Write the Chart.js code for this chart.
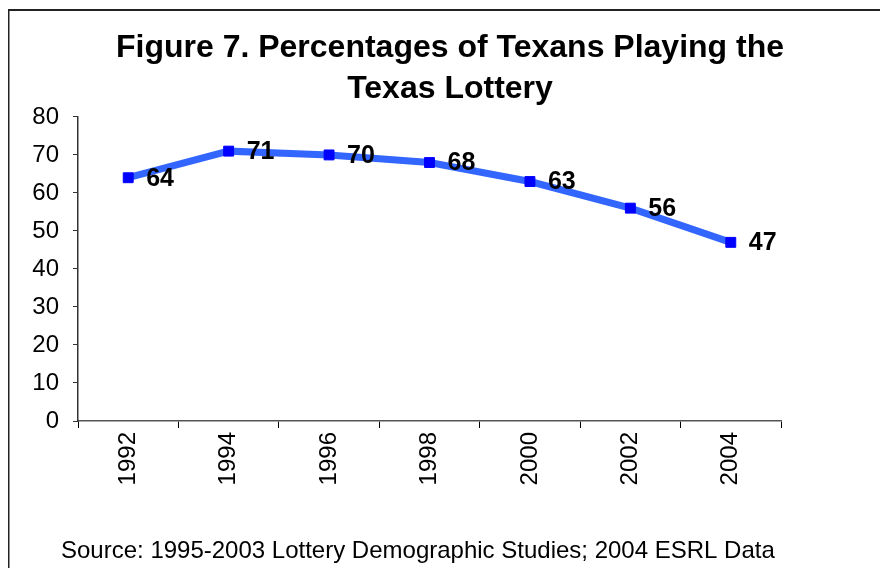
<!DOCTYPE html>
<html>
<head>
<meta charset="utf-8">
<script src="https://cdn.jsdelivr.net/npm/chart.js@4/dist/chart.umd.min.js"></script>
<style>
  html, body { margin: 0; padding: 0; background: #fff; }
  #wrap { position: relative; width: 880px; height: 568px; }
</style>
</head>
<body>
<div id="wrap"><canvas id="c" width="880" height="568"></canvas></div>
<script>
const years = ['1992', '1994', '1996', '1998', '2000', '2002', '2004'];
const percentPlaying = [64, 71, 70, 68, 63, 56, 47];
const yTicks = [0, 10, 20, 30, 40, 50, 60, 70, 80];
const titleLines = ['Figure 7. Percentages of Texans Playing the', 'Texas Lottery'];
const sourceNote = 'Source: 1995-2003 Lottery Demographic Studies; 2004 ESRL Data';

const FONT = '"Liberation Sans", Arial, sans-serif';

const framePlugin = {
  id: 'frame',
  beforeDraw(chart) {
    const ctx = chart.ctx;
    ctx.save();
    ctx.fillStyle = '#fff';
    ctx.fillRect(0, 0, chart.width, chart.height);
    ctx.fillStyle = '#222';
    ctx.fillRect(8, 9, chart.width, 2);
    ctx.fillRect(8, 9, 1.5, chart.height);
    ctx.restore();
  }
};

const labelPlugin = {
  id: 'valueLabels',
  afterDatasetsDraw(chart) {
    const ctx = chart.ctx;
    const meta = chart.getDatasetMeta(0);
    ctx.save();
    ctx.font = 'bold 25px ' + FONT;
    ctx.fillStyle = '#000';
    ctx.textAlign = 'left';
    ctx.textBaseline = 'middle';
    meta.data.forEach((pt, i) => {
      ctx.fillText(String(percentPlaying[i]), pt.x + 18, pt.y + 1);
    });
    ctx.restore();
  }
};

const sourcePlugin = {
  id: 'sourceNote',
  afterDraw(chart) {
    const ctx = chart.ctx;
    ctx.save();
    ctx.font = '24px ' + FONT;
    ctx.fillStyle = '#000';
    ctx.textAlign = 'left';
    ctx.textBaseline = 'alphabetic';
    ctx.fillText(sourceNote, 61, 558);
    ctx.restore();
  }
};

new Chart(document.getElementById('c'), {
  type: 'line',
  data: {
    labels: years,
    datasets: [{
      data: percentPlaying,
      borderColor: '#3366FF',
      borderWidth: 7,
      tension: 0,
      pointStyle: 'rect',
      pointRadius: 7,
      pointBackgroundColor: '#0000FF',
      pointBorderColor: '#0000FF',
      pointBorderWidth: 1,
      yAxisID: 'y'
    }]
  },
  options: {
    responsive: false,
    animation: false,
    devicePixelRatio: 1,
    layout: { padding: { left: 20, right: 0, top: 10, bottom: 0 } },
    plugins: {
      legend: { display: false },
      tooltip: { enabled: false },
      title: {
        display: true,
        text: titleLines,
        color: '#000',
        font: { family: FONT, size: 32, weight: 'bold', lineHeight: 1.28 },
        padding: { top: 18, bottom: 7 }
      }
    },
    scales: {
      x: {
        type: 'category',
        offset: true,
        grid: {
          offset: true,
          drawOnChartArea: false,
          drawTicks: true,
          tickLength: 7,
          color: '#000',
          lineWidth: 1
        },
        border: { display: true, color: '#555', width: 1.5 },
        ticks: {
          color: '#000',
          font: { family: FONT, size: 24 },
          minRotation: 90,
          maxRotation: 90,
          padding: 4,
          autoSkip: false
        },
        afterFit(scale) { scale.height = 147; }
      },
      y: {
        type: 'linear',
        position: 'left',
        min: 0,
        max: 80,
        afterBuildTicks(scale) { scale.ticks = yTicks.map(v => ({ value: v })); },
        grid: {
          drawOnChartArea: false,
          drawTicks: true,
          tickLength: 5,
          color: '#333',
          lineWidth: 1
        },
        border: { display: true, color: '#333', width: 1.5 },
        ticks: {
          color: '#000',
          font: { family: FONT, size: 24 },
          padding: 14
        },
        afterFit(scale) { scale.width = 58; }
      },
      y2: {
        type: 'linear',
        position: 'right',
        display: true,
        min: 0,
        max: 80,
        grid: { display: false, drawTicks: false },
        border: { display: false },
        ticks: { display: false },
        afterFit(scale) { scale.width = 99; }
      }
    }
  },
  plugins: [framePlugin, labelPlugin, sourcePlugin]
});
</script>
</body>
</html>
